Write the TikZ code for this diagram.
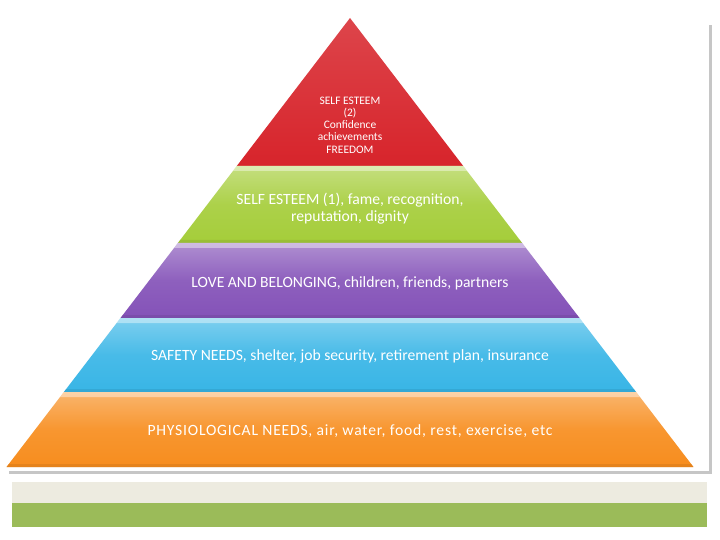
\documentclass[tikz,border=0pt]{standalone}
\usepackage{fontspec}
\setmainfont{Carlito}
\usetikzlibrary{shadows}
\definecolor{toplevel}{HTML}{D7242B}
\definecolor{esteemgreen}{HTML}{A5CD3A}
\definecolor{lovepurple}{HTML}{8452B8}
\definecolor{safetyblue}{HTML}{38B5E6}
\definecolor{physioorange}{HTML}{F78D1E}
\definecolor{footbeige}{HTML}{EDEBE0}
\definecolor{footgreen}{HTML}{9BBB59}
\tikzset{
  lbl/.style={text=white, align=center, inner sep=1pt, font=\fontsize{15.7}{17}\selectfont},
  small lbl/.style={lbl, font=\fontsize{11.5}{12.3}\selectfont},
  wide lbl/.style={lbl, font=\fontsize{15.7}{17}\selectfont\addfontfeature{LetterSpace=5}},
}
\begin{document}
\begin{tikzpicture}[x=1bp, y=-1bp, line join=round]
	\useasboundingbox (0,0) rectangle (720,540);
	\def\cx{350} \def\ty{18} \def\sl{0.765}
	% card with shadow
	\fill[white, drop shadow={shadow xshift=3bp, shadow yshift=-3bp, opacity=.45}] (6,22) rectangle (709,471);
	% top of the pyramid
	\shade[top color=toplevel!85!white, bottom color=toplevel] (\cx,\ty) -- ({\cx+\sl*(166-\ty)},166) -- ({\cx-\sl*(166-\ty)},166) -- cycle;
	% the other levels
	\foreach \t/\b/\c in {166/243/esteemgreen, 243/318/lovepurple, 318/392/safetyblue, 392/467/physioorange}{
		\shade[top color=\c!65!white, bottom color=\c, middle color=\c!92!white] ({\cx-\sl*(\t-\ty)},\t) -- ({\cx+\sl*(\t-\ty)},\t) -- ({\cx+\sl*(\b-\ty)},\b) -- ({\cx-\sl*(\b-\ty)},\b) -- cycle;
		\fill[white, opacity=.4] ({\cx-\sl*(\t-\ty)},\t) -- ({\cx+\sl*(\t-\ty)},\t) -- ({\cx+\sl*(\t+5-\ty)},\t+5) -- ({\cx-\sl*(\t+5-\ty)},\t+5) -- cycle;
		\fill[\c!80!black, opacity=.35] ({\cx-\sl*(\b-3-\ty)},\b-3) -- ({\cx+\sl*(\b-3-\ty)},\b-3) -- ({\cx+\sl*(\b-\ty)},\b) -- ({\cx-\sl*(\b-\ty)},\b) -- cycle;
	}
	% footer bands
	\fill[footbeige] (12,482) rectangle (707,503);
	\fill[footgreen] (12,503) rectangle (707,527);
	% labels
	\node[small lbl] (esteemtwo) at (350,125) {SELF ESTEEM\\(2)\\Confidence\\achievements\\FREEDOM};
	\node[lbl] (esteemone) at (350,209) {SELF ESTEEM (1), fame, recognition,\\reputation, dignity};
	\node[lbl] (love) at (350,283) {LOVE AND BELONGING, children, friends, partners};
	\node[lbl] (safety) at (350,356) {SAFETY NEEDS, shelter, job security, retirement plan, insurance};
	\node[wide lbl] (physio) at (350,431) {PHYSIOLOGICAL NEEDS, air, water, food, rest, exercise, etc};
\end{tikzpicture}
\end{document}
